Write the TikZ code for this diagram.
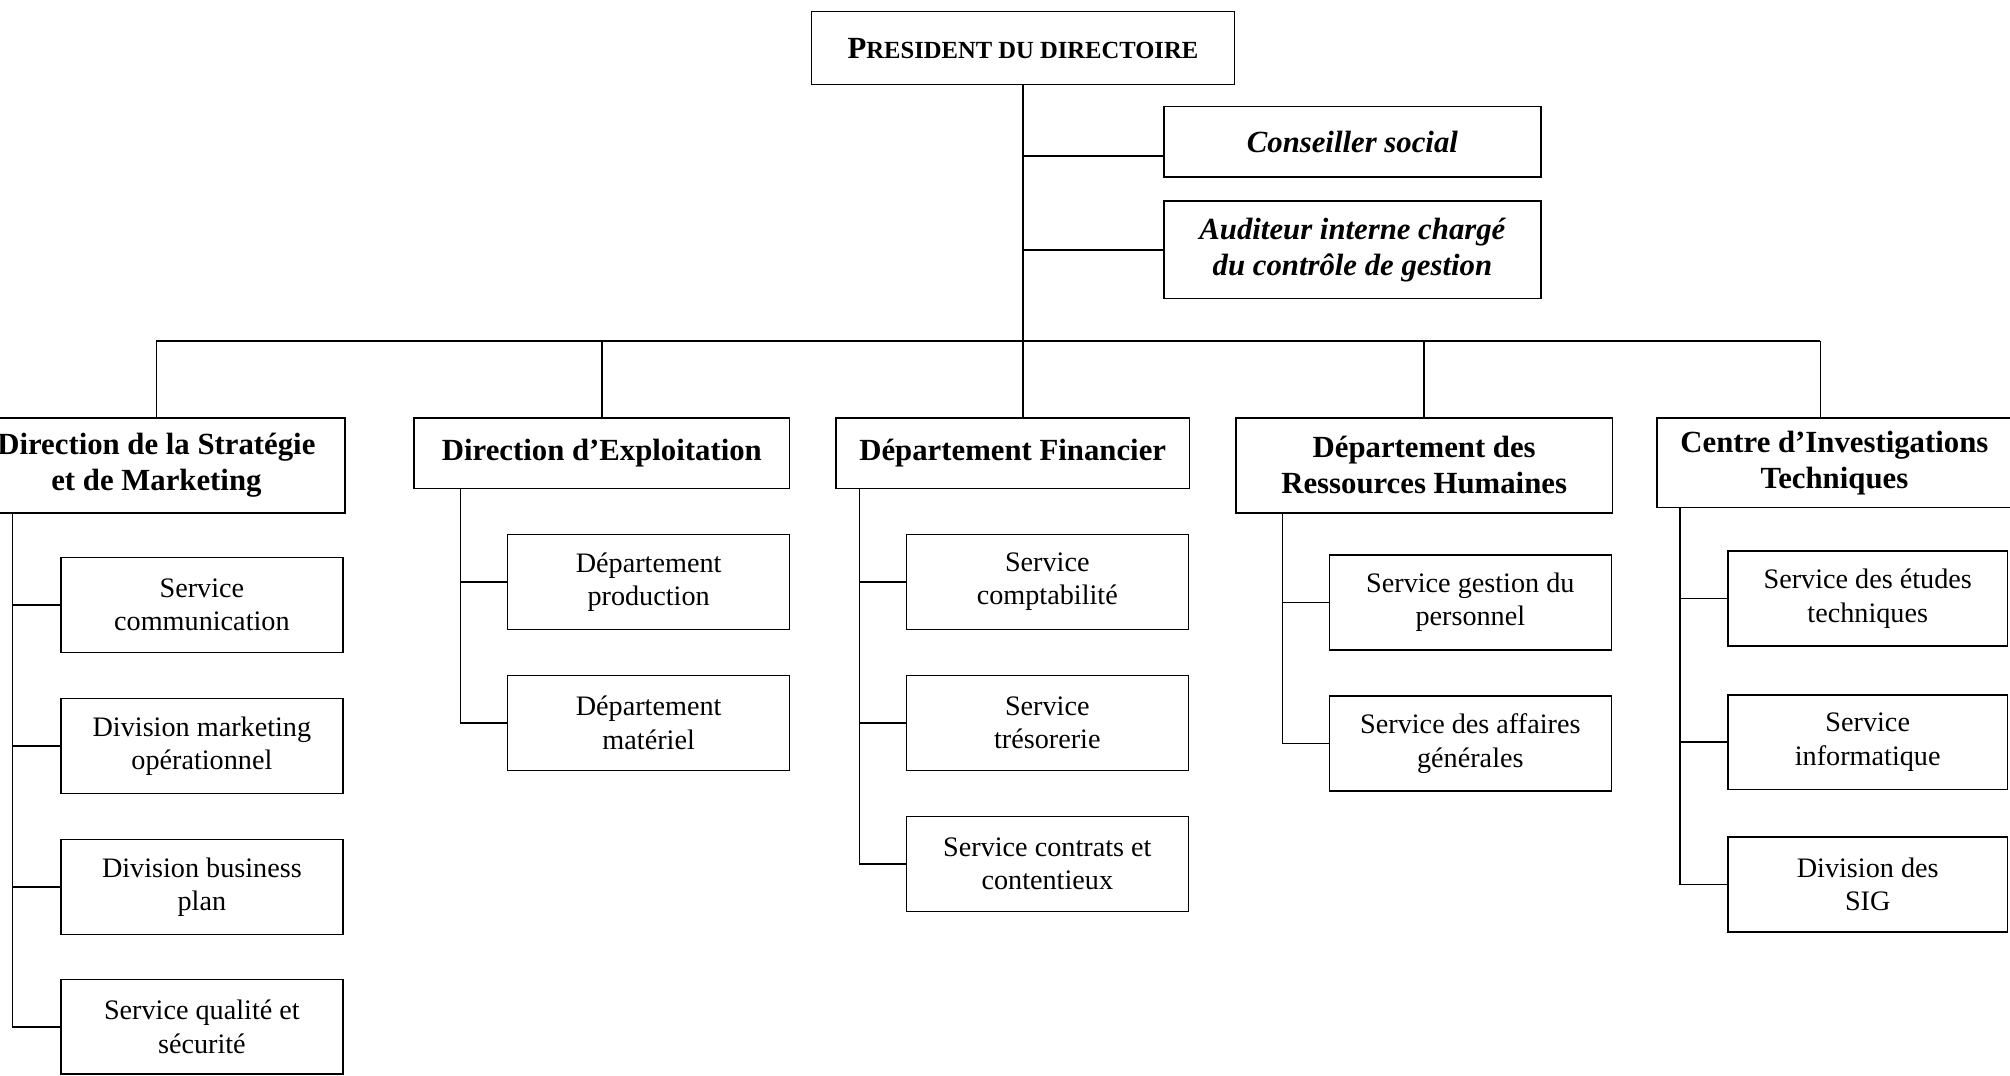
\documentclass[tikz,border=0pt]{standalone}
\usepackage{fontspec}
\setmainfont{Liberation Serif}
\usepackage{tikz}
\usetikzlibrary{calc}

\newcommand{\scword}[2]{#1{\fontsize{9.6}{12}\selectfont #2}}

\tikzset{
	topbox/.style={draw, line width=0.6pt, align=center, inner sep=2pt, font=\bfseries\fontsize{12}{14}\selectfont},
	sidebox/.style={draw, line width=0.6pt, align=center, inner sep=2pt, minimum width=147pt, font=\bfseries\itshape\fontsize{12}{14}\selectfont},
	dirbox/.style={draw, line width=0.6pt, align=center, inner sep=2pt, font=\bfseries\fontsize{12}{14}\selectfont},
	unitbox/.style={draw, line width=0.6pt, align=center, inner sep=2pt, minimum width=110pt, minimum height=37pt, font=\fontsize{11}{13}\selectfont},
	link/.style={line width=0.6pt},
}

\begin{document}
\begin{tikzpicture}[x=0.5pt,y=0.5pt,yscale=-1,xscale=1]
	\useasboundingbox (0,0) rectangle (1568,839);
	\clip (0,0) rectangle (1568,839);
	
	%Top
	\node [topbox, minimum width=165pt, minimum height=28.5pt] (pres) at (798,37.5) {\scword{P}{RESIDENT DU DIRECTOIRE}};
	\node [sidebox, minimum height=27.5pt] (cons) at (1055,110.5) {Conseiller social};
	\node [sidebox, minimum height=38pt] (aud) at (1055,195) {Auditeur interne chargé\\du contrôle de gestion};
	
	%Directions
	\node [dirbox, minimum width=147pt, minimum height=37pt] (strat) at (122,363) {Direction de la Stratégie\\et de Marketing};
	\node [dirbox, minimum width=146.5pt, minimum height=27.5pt] (exploit) at (469.5,353.5) {Direction d’Exploitation};
	\node [dirbox, minimum width=138pt, minimum height=27.5pt] (fin) at (790,353.5) {Département Financier};
	\node [dirbox, minimum width=147pt, minimum height=37pt] (rh) at (1111,363) {Département des\\Ressources Humaines};
	\node [dirbox, minimum width=138.5pt, minimum height=35pt] (cit) at (1431,361) {Centre d’Investigations\\Techniques};
	
	%Services
	\node [unitbox] (comm) at (157.5,472) {Service\\communication};
	\node [unitbox] (mkop) at (157.5,582) {Division marketing\\opérationnel};
	\node [unitbox] (bplan) at (157.5,692) {Division business\\plan};
	\node [unitbox] (qualite) at (157.5,801) {Service qualité et\\sécurité};
	
	\node [unitbox] (prod) at (506,454) {Département\\production};
	\node [unitbox] (mat) at (506,564) {Département\\matériel};
	
	\node [unitbox] (compta) at (817,454) {Service\\comptabilité};
	\node [unitbox] (treso) at (817,564) {Service\\trésorerie};
	\node [unitbox] (contrats) at (817,674) {Service contrats et\\contentieux};
	
	\node [unitbox] (perso) at (1147,470) {Service gestion du\\personnel};
	\node [unitbox] (affaires) at (1147,580) {Service des affaires\\générales};
	
	\node [unitbox, minimum width=109pt] (etudes) at (1457,467) {Service des études\\techniques};
	\node [unitbox, minimum width=109pt] (info) at (1457,579) {Service\\informatique};
	\node [unitbox, minimum width=109pt] (sig) at (1457,690) {Division des\\SIG};
	
	%Straight Lines
	\coordinate (bus) at (0,266);
	\coordinate (c1) at ($(cons.north west)!0.7!(cons.south west)$);
	\draw [link] (pres.south) -- (pres.south |- bus);
	\draw [link] (pres.south |- c1) -- (c1);
	\draw [link] (pres.south |- aud.west) -- (aud.west);
	\draw [link] (strat.north |- bus) -- ([xshift=-5.5pt]cit.north |- bus);
	\draw [link] (strat.north |- bus) -- (strat.north);
	\draw [link] (exploit.north |- bus) -- (exploit.north);
	\draw [link] (pres.south |- bus) -- (pres.south |- fin.north);
	\draw [link] (rh.north |- bus) -- (rh.north);
	\draw [link] ([xshift=-5.5pt]cit.north |- bus) -- ([xshift=-5.5pt]cit.north);
	
	%Spines
	\coordinate (s1) at ($(comm.west)+(-37,0)$);
	\draw [link] (s1 |- strat.south) |- (qualite.west);
	\draw [link] (s1) -- (comm.west);
	\draw [link] (s1 |- mkop.west) -- (mkop.west);
	\draw [link] (s1 |- bplan.west) -- (bplan.west);
	
	\coordinate (s2) at ($(prod.west)+(-36,0)$);
	\draw [link] (s2 |- exploit.south) |- (mat.west);
	\draw [link] (s2) -- (prod.west);
	
	\coordinate (s3) at ($(compta.west)+(-36,0)$);
	\draw [link] (s3 |- fin.south) |- (contrats.west);
	\draw [link] (s3) -- (compta.west);
	\draw [link] (s3 |- treso.west) -- (treso.west);
	
	\coordinate (s4) at ($(perso.west)+(-36,0)$);
	\draw [link] (s4 |- rh.south) |- (affaires.west);
	\draw [link] (s4) -- (perso.west);
	
	\coordinate (s5) at ($(etudes.west)+(-37,0)$);
	\draw [link] (s5 |- cit.south) |- (sig.west);
	\draw [link] (s5) -- (etudes.west);
	\draw [link] (s5 |- info.west) -- (info.west);
	
\end{tikzpicture}
\end{document}
